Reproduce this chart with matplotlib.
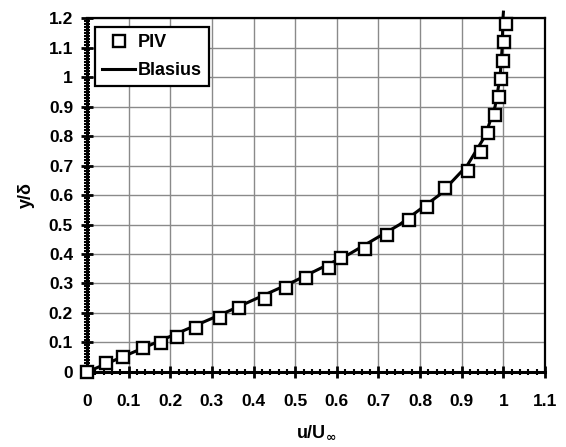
import numpy as np
import matplotlib
matplotlib.use("Agg")
import matplotlib.pyplot as plt
from matplotlib.ticker import MultipleLocator

plt.rcParams["font.family"] = ["Liberation Sans", "DejaVu Sans"]
plt.rcParams["font.weight"] = "bold"

# PIV measurements (u/U_inf, y/delta)
piv_u = [0.0, 0.046, 0.087, 0.135, 0.178, 0.216, 0.262, 0.320, 0.364, 0.428,
         0.478, 0.526, 0.580, 0.610, 0.668, 0.720, 0.774, 0.816, 0.860, 0.915,
         0.947, 0.963, 0.979, 0.989, 0.993, 0.999, 1.002, 1.007]
piv_y = [0.0, 0.030, 0.052, 0.082, 0.099, 0.118, 0.148, 0.182, 0.216, 0.247,
         0.284, 0.318, 0.354, 0.388, 0.417, 0.464, 0.515, 0.560, 0.625, 0.682,
         0.747, 0.809, 0.871, 0.933, 0.992, 1.054, 1.117, 1.180]

# Blasius profile (tabulated f'(eta), y/delta = eta/5)
blasius_u = [0.0, 0.166, 0.330, 0.487, 0.630, 0.751, 0.846, 0.913, 0.956,
             0.980, 0.992, 0.997, 0.999, 1.0]
blasius_y = [0.0, 0.1, 0.2, 0.3, 0.4, 0.5, 0.6, 0.7, 0.8, 0.9, 1.0, 1.1, 1.2, 1.22]

fig = plt.figure(figsize=(5.66, 4.47), dpi=100)
ax = fig.add_axes([0.1537, 0.1678, 0.963 - 0.1537, 0.9597 - 0.1678])

ax.plot(blasius_u, blasius_y, color="black", lw=2.2, label="Blasius",
        clip_on=False, zorder=3)
ax.plot(piv_u, piv_y, ls="none", marker="s", ms=9, mfc="white", mec="black",
        mew=1.7, label="PIV", clip_on=False, zorder=4)

ax.set_xlim(0, 1.1)
ax.set_ylim(0, 1.2)
ax.xaxis.set_major_locator(MultipleLocator(0.1))
ax.yaxis.set_major_locator(MultipleLocator(0.1))
ax.xaxis.set_minor_locator(MultipleLocator(0.02))
ax.yaxis.set_minor_locator(MultipleLocator(0.01))
ax.xaxis.set_major_formatter(lambda v, p: f"{v:g}")
ax.yaxis.set_major_formatter(lambda v, p: f"{v:g}")

ax.grid(True, which="major", color="#8a8a8a", lw=1.0)
ax.set_axisbelow(True)
ax.tick_params(which="major", direction="inout", length=8, width=2,
               labelsize=12.5)
ax.tick_params(axis="x", which="major", pad=12)
ax.tick_params(axis="y", which="major", pad=6)
ax.tick_params(which="minor", direction="inout", length=4, width=1.5)
for lab in ax.get_xticklabels() + ax.get_yticklabels():
    lab.set_fontweight("bold")

for s in ["left", "bottom"]:
    ax.spines[s].set_linewidth(2.2)
for s in ["top", "right"]:
    ax.spines[s].set_linewidth(1.6)

ax.set_xlabel("u/U$_{\\mathbf{\\infty}}$", fontsize=13, fontweight="bold", labelpad=10)
ax.set_ylabel("y/δ", fontsize=13, fontweight="bold", labelpad=10)

handles, labels = ax.get_legend_handles_labels()
leg = ax.legend(handles[::-1], labels[::-1], loc="upper left",
                bbox_to_anchor=(0.018, 0.975), fontsize=13, fancybox=False,
                framealpha=1, edgecolor="black", handlelength=1.8,
                handletextpad=0.15, borderpad=0.4, labelspacing=0.6,
                borderaxespad=0)
leg.get_frame().set_linewidth(1.6)
for t in leg.get_texts():
    t.set_fontweight("bold")

fig.savefig("out.png", dpi=100)
